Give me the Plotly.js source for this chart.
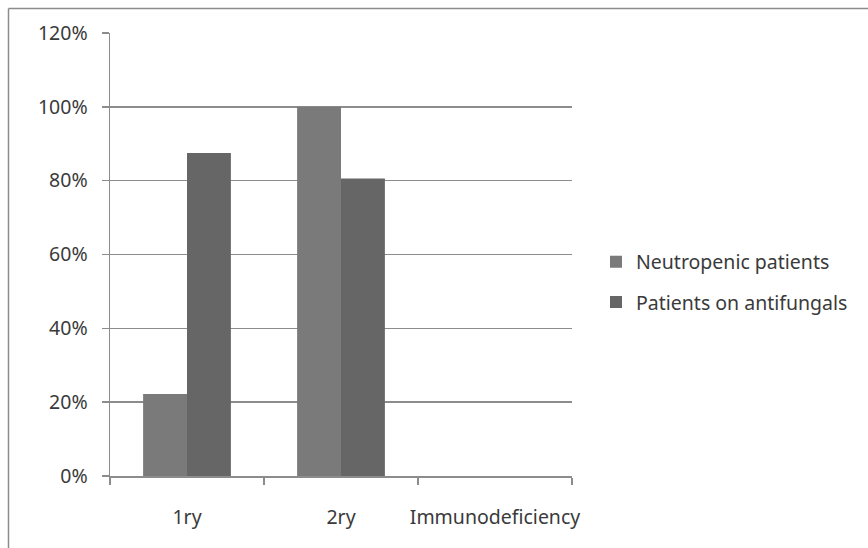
<!DOCTYPE html>
<html>
<head>
<meta charset="utf-8">
<script src="https://cdn.plot.ly/plotly-3.0.1.min.js"></script>
<style>html,body{margin:0;padding:0;background:#fff;}#chart{width:868px;height:548px;}</style>
</head>
<body>
<div id="chart"></div>
<script>
const categories = ["1ry", "2ry", "Immunodeficiency"];
const neutropenic = [0.222, 1.00, 0];
const antifungals = [0.875, 0.806, 0];
const seriesNames = ["Neutropenic patients", "Patients on antifungals"];
const yTicks = [0, 0.2, 0.4, 0.6, 0.8, 1.0, 1.2];

const FONT = "Noto Sans, Open Sans, sans-serif";
const FS = 19.5;
const axisCol = "#8c8c8c";
const txtCol = "#3a3a3a";

const data = [
  {type: "bar", name: seriesNames[0], x: categories, y: neutropenic,
   marker: {color: "#7a7a7a", line: {width: 0}}, legendgroup: "a"},
  {type: "bar", name: seriesNames[1], x: categories, y: antifungals,
   marker: {color: "#666666", line: {width: 0}}, legendgroup: "b"}
];

// plot area 110..572 x, 33..476 y
const L = 110, R = 572, T = 33, B = 476;
const px = v => (v - L) / (R - L);
const py = v => (B - v) / (B - T);

const layout = {
  width: 868, height: 548,
  margin: {l: L, r: 868 - R, t: T, b: 548 - B},
  paper_bgcolor: "#fff", plot_bgcolor: "#fff",
  font: {family: FONT, size: FS, color: txtCol},
  barmode: "group", bargap: 0.43, bargroupgap: 0,
  showlegend: true,
  legend: {x: px(596), xanchor: "left", y: py(282), yanchor: "middle",
           font: {family: FONT, size: FS, color: txtCol},
           traceorder: "grouped", tracegroupgap: 12, itemwidth: 30},
  xaxis: {type: "category", showgrid: false, showline: true, linecolor: axisCol, linewidth: 1.5,
          ticks: "outside", tickson: "boundaries", ticklen: 7, tickcolor: axisCol, tickwidth: 1.5,
          tickangle: 0, ticklabelstandoff: 23, tickfont: {family: FONT, size: FS, color: txtCol}},
  yaxis: {range: [0, 1.2], tickvals: yTicks, tickformat: ".0%", showgrid: true, gridcolor: axisCol, gridwidth: 1.5,
          showline: true, linecolor: axisCol, linewidth: 1.5, zeroline: false,
          ticks: "outside", ticklen: 7, tickcolor: axisCol, tickwidth: 1.5,
          ticklabelstandoff: 10, tickfont: {family: FONT, size: FS, color: txtCol}},
  shapes: [
    {type: "line", xref: "paper", yref: "paper", x0: px(8.5), x1: px(900), y0: py(8.5), y1: py(8.5),
     line: {color: "#8c8c8c", width: 1.5}},
    {type: "line", xref: "paper", yref: "paper", x0: px(8.5), x1: px(8.5), y0: py(8.5), y1: py(600),
     line: {color: "#8c8c8c", width: 1.5}}
  ]
};

Plotly.newPlot("chart", data, layout, {displayModeBar: false, staticPlot: true});
</script>
</body>
</html>
